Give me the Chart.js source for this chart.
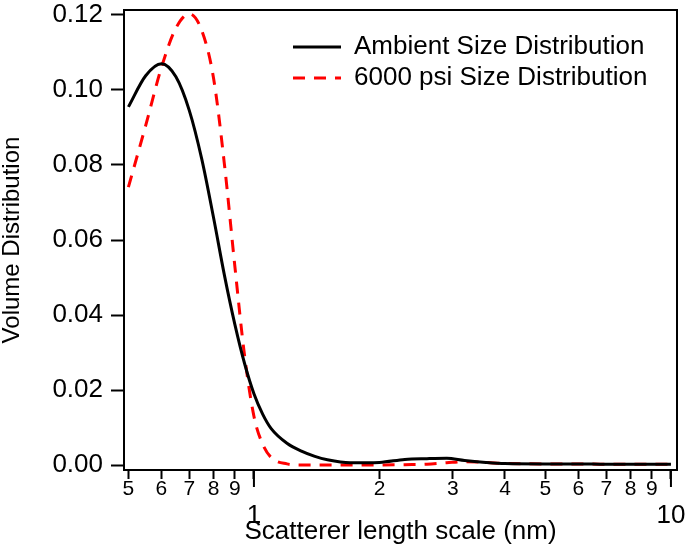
<!DOCTYPE html>
<html>
<head>
<meta charset="utf-8">
<script src="https://cdn.jsdelivr.net/npm/chart.js@4.4.0/dist/chart.umd.min.js"></script>
<style>
  html, body { margin: 0; padding: 0; background: #fff; }
  #wrap { width: 685px; height: 547px; }
</style>
</head>
<body>
<div id="wrap"><canvas id="myChart"></canvas></div>
<script>
// scatterer length scale, nm
const sizeNm = [0.5, 0.55, 0.6, 0.65, 0.7, 0.75, 0.8, 0.85, 0.9, 0.95, 1.0, 1.05, 1.1, 1.2, 1.3, 1.4, 1.5, 1.7,
                2.0, 2.3, 2.6, 2.9, 3.2, 3.6, 4.0, 5.0, 6.0, 7.0, 8.0, 9.0, 10.0];
const ambient = [0.0955, 0.1038, 0.1070, 0.1035, 0.0945, 0.0815, 0.0660, 0.0505, 0.0375, 0.0270, 0.0190, 0.0135,
                 0.0097, 0.0058, 0.0037, 0.0023, 0.0014, 0.0006, 0.0007, 0.0015, 0.0017, 0.0018, 0.0012, 0.0007,
                 0.0004, 0.0003, 0.0003, 0.0002, 0.0002, 0.0002, 0.0002];
const psi6000 = [0.0741, 0.0905, 0.1060, 0.1165, 0.1203, 0.1158, 0.1032, 0.0800, 0.0530, 0.0290, 0.0130, 0.0055,
                 0.0020, 0.0003, 0.0000, 0.0000, 0.0000, 0.0000, 0.0000, 0.0001, 0.0002, 0.0006, 0.0009, 0.0007,
                 0.0004, 0.0003, 0.0003, 0.0002, 0.0002, 0.0002, 0.0002];

const xTickValues = [0.5, 0.6, 0.7, 0.8, 0.9, 1, 2, 3, 4, 5, 6, 7, 8, 9, 10];
const xTickLabels = ['5', '6', '7', '8', '9', '1', '2', '3', '4', '5', '6', '7', '8', '9', '10'];
const xMajor = [1, 10];
const yTickValues = [0, 0.02, 0.04, 0.06, 0.08, 0.10, 0.12];
const yTickLabels = ['0.00', '0.02', '0.04', '0.06', '0.08', '0.10', '0.12'];

Chart.defaults.font.family = '"Liberation Sans", Arial, sans-serif';
Chart.defaults.color = '#000';

function points (ys) {
    return sizeNm.map((x, i) => ({ x: x, y: ys[i] }));
}

const framePlugin = {
    id: 'frame',
    afterLayout (chart) {
        // legend sits inside the plot, upper right
        chart.legend.left = 288;
        chart.legend.top = 29;
    },
    beforeDatasetsDraw (chart) {
        const ctx = chart.ctx;
        const a = chart.chartArea;
        ctx.save();
        ctx.strokeStyle = '#000';
        ctx.lineWidth = 2;
        ctx.strokeRect(a.left, a.top, a.right - a.left, a.bottom - a.top);
        // decade ticks are longer
        const xs = chart.scales.x;
        xMajor.forEach(v => {
            const px = xs.getPixelForValue(v);
            ctx.beginPath();
            ctx.moveTo(px, a.bottom);
            ctx.lineTo(px, a.bottom + 17);
            ctx.stroke();
        });
        ctx.restore();
    }
};

function chart () {
    const ctx = document.getElementById('myChart').getContext('2d');
    new Chart(ctx, {
        type: 'line',
        data: {
            datasets: [{
                label: 'Ambient Size Distribution',
                data: points(ambient),
                borderColor: '#000',
                backgroundColor: '#000',
                borderWidth: 3,
                pointRadius: 0,
                cubicInterpolationMode: 'monotone',
                fill: false
            }, {
                label: '6000 psi Size Distribution',
                data: points(psi6000),
                borderColor: '#ff0000',
                backgroundColor: '#ff0000',
                borderWidth: 3,
                borderDash: [12, 9],
                pointRadius: 0,
                cubicInterpolationMode: 'monotone',
                fill: false
            }]
        },
        options: {
            responsive: true,
            maintainAspectRatio: false,
            devicePixelRatio: 1,
            animation: false,
            layout: { padding: { top: 10, right: 8, left: 0, bottom: 0 } },
            plugins: {
                tooltip: { enabled: false },
                legend: {
                    position: 'chartArea',
                    align: 'start',
                    labels: {
                        usePointStyle: true,
                        pointStyleWidth: 48,
                        padding: 5,
                        font: { size: 26 },
                        color: '#000',
                        generateLabels: c => Chart.defaults.plugins.legend.labels.generateLabels(c).map((it, i) => {
                            const ds = c.data.datasets[i];
                            it.pointStyle = 'line';
                            it.lineWidth = 3;
                            it.lineDash = ds.borderDash || [];
                            it.strokeStyle = ds.borderColor;
                            it.fillStyle = ds.borderColor;
                            return it;
                        })
                    }
                }
            },
            scales: {
                x: {
                    type: 'logarithmic',
                    position: 'bottom',
                    min: 0.488,
                    max: 10.34,
                    afterBuildTicks: s => { s.ticks = xTickValues.map(v => ({ value: v })); },
                    afterFit: s => { s.height = 77; s.paddingLeft = 0; s.paddingRight = 0; },
                    border: { display: false },
                    grid: { drawOnChartArea: false, tickLength: 9, tickWidth: 2, tickColor: '#000' },
                    ticks: {
                        autoSkip: false,
                        maxRotation: 0,
                        padding: 0,
                        color: '#000',
                        font: c => (c.tick && xMajor.includes(c.tick.value)) ? { size: 26, lineHeight: 0.95 } : { size: 21, lineHeight: 1.0 },
                        callback: (v, i) => xMajor.includes(xTickValues[i]) ? ['', xTickLabels[i]] : xTickLabels[i]
                    },
                    title: {
                        display: true,
                        text: 'Scatterer length scale (nm)',
                        font: { size: 26 },
                        padding: 0,
                        color: '#000'
                    }
                },
                y: {
                    min: -0.00133,
                    max: 0.12133,
                    afterBuildTicks: s => { s.ticks = yTickValues.map(v => ({ value: v })); },
                    afterFit: s => { s.width = 124; s.paddingTop = 0; s.paddingBottom = 0; },
                    border: { display: false },
                    grid: { drawOnChartArea: false, tickLength: 13, tickWidth: 2, tickColor: '#000' },
                    ticks: {
                        padding: 8,
                        color: '#000',
                        font: { size: 26 },
                        callback: (v, i) => yTickLabels[i]
                    },
                    title: {
                        display: true,
                        text: 'Volume Distribution',
                        font: { size: 24, lineHeight: 1.0 },
                        padding: 0,
                        color: '#000'
                    }
                }
            }
        },
        plugins: [framePlugin]
    });
}

window.onload = chart;
</script>
</body>
</html>
